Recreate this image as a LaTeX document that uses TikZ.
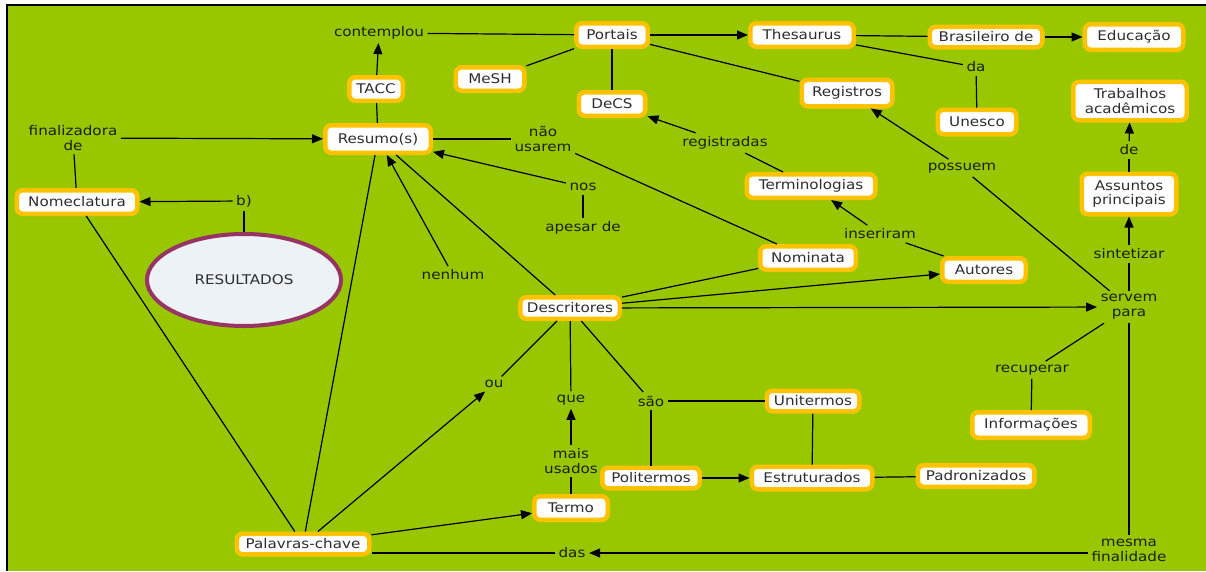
\documentclass[tikz,border=0pt]{standalone}
\usepackage{fontspec}
\setmainfont[FakeStretch=1.14]{DejaVu Sans}
\usetikzlibrary{arrows.meta,shapes.geometric}

\definecolor{mapgreen}{RGB}{152,199,0}
\definecolor{boxrim}{RGB}{255,194,0}
\definecolor{boxtext}{RGB}{45,45,45}
\definecolor{linktext}{RGB}{24,32,0}
\definecolor{ovalrim}{RGB}{150,52,100}
\definecolor{ovalfill}{RGB}{236,242,245}

\tikzset{
  concept/.style={draw=boxrim, line width=4.5pt, fill=white, rounded corners=6pt,
    text=boxtext, align=center, minimum height=23.5pt, inner sep=2pt},
  phrase/.style={text=linktext, align=center, inner sep=3.5pt},
  link/.style={draw=black, line width=1.2pt},
  arr/.style={link, -{Triangle[length=11pt,width=9pt]}},
  every node/.style={font=\fontsize{13.3}{14.8}\selectfont}
}

\begin{document}
\begin{tikzpicture}[x=1pt,y=-1pt]
  % page, frame and green field
  \useasboundingbox (0,0) rectangle (1206,571);
  \fill[white] (0,0) rectangle (1206,571);
  \fill[mapgreen] (7,5) rectangle (1206,571);
  \draw[black, line width=1.6pt] (7,571) -- (7,5) -- (1206,5);

  % concepts
  \node[concept, minimum width=53.5pt]  (tacc)   at (376,89)  {TACC};
  \node[concept, minimum width=105.5pt, minimum height=27.5pt] (res) at (378,139) {Resumo(s)};
  \node[concept, minimum width=120.5pt] (nom)    at (77,202)  {Nomeclatura};
  \node[concept, minimum width=71.5pt]  (port)   at (612,35)  {Portais};
  \node[concept, minimum width=68.5pt]  (mesh)   at (490,79)  {MeSH};
  \node[concept, minimum width=66.5pt]  (decs)   at (612,104) {DeCS};
  \node[concept, minimum width=103.5pt] (thes)   at (802,35)  {Thesaurus};
  \node[concept, minimum width=112.5pt, minimum height=20.5pt] (bras) at (986,37) {Brasileiro de};
  \node[concept, minimum width=98.5pt, minimum height=25.5pt]  (edu)  at (1134,37) {Educação};
  \node[concept, minimum width=90.5pt, minimum height=26.5pt]  (reg)  at (847,93)  {Registros};
  \node[concept, minimum width=78.5pt, minimum height=24.5pt]  (une)  at (977,122) {Unesco};
  \node[concept, minimum width=113.5pt, minimum height=38.5pt] (trab) at (1130,101) {Trabalhos\\acadêmicos};
  \node[concept, minimum width=94.5pt, minimum height=40.5pt]  (assu) at (1129,194) {Assuntos\\principais};
  \node[concept, minimum width=128.5pt] (term)   at (811,186) {Terminologias};
  \node[concept, minimum width=83.5pt]  (aut)    at (984,270) {Autores};
  \node[concept, minimum width=95.5pt]  (nomi)   at (808,258) {Nominata};
  \node[concept, minimum width=99.5pt, minimum height=21.5pt] (desc) at (570,308) {Descritores};
  \node[concept, minimum width=92.5pt, minimum height=20.5pt]  (uni)  at (813,401) {Unitermos};
  \node[concept, minimum width=117.5pt, minimum height=25.5pt] (info) at (1031,425) {Informações};
  \node[concept, minimum width=97.5pt, minimum height=20.5pt]  (poli) at (651,478) {Politermos};
  \node[concept, minimum width=120.5pt, minimum height=22.5pt] (estr) at (812,478) {Estruturados};
  \node[concept, minimum width=116.5pt, minimum height=21.5pt] (padr) at (976,476) {Padronizados};
  \node[concept, minimum width=73.5pt]  (termo)  at (571,508) {Termo};
  \node[concept, minimum width=132.5pt, minimum height=20.5pt] (pk)   at (303,544) {Palavras-chave};

  \node[ellipse, draw=ovalrim, line width=4pt, fill=ovalfill, text=boxtext,
        minimum width=194pt, minimum height=92pt] (resu) at (244,280) {RESULTADOS};

  % linking phrases
  \node[phrase] (cont)  at (379,33)   {contemplou};
  \node[phrase] (fin)   at (73,138)   {finalizadora\\de};
  \node[phrase] (b)     at (244,201)  {b)};
  \node[phrase] (da)    at (976,67)   {da};
  \node[phrase] (de)    at (1129,150) {de};
  \node[phrase] (sint)  at (1129,254) {sintetizar};
  \node[phrase] (regi)  at (725,143)  {registradas};
  \node[phrase] (poss)  at (962,168)  {possuem};
  \node[phrase] (ins)   at (880,234)  {inseriram};
  \node[phrase] (nao)   at (543,139)  {não\\usarem};
  \node[phrase] (nos)   at (583,187)  {nos};
  \node[phrase] (apes)  at (583,228)  {apesar de};
  \node[phrase] (nenh)  at (453,275)  {nenhum};
  \node[phrase] (serv)  at (1129,307) {servem\\para};
  \node[phrase] (ou)    at (494,384)  {ou};
  \node[phrase] (que)   at (571,400)  {que};
  \node[phrase] (sao)   at (651,401)  {são};
  \node[phrase] (recu)  at (1032,370) {recuperar};
  \node[phrase] (mais)  at (571,461)  {mais\\usados};
  \node[phrase] (das)   at (572,553)  {das};
  \node[phrase] (mesm)  at (1129,550) {mesma\\finalidade};

  % connectors
  \draw[link] (res) -- (tacc);
  \draw[arr]  (tacc) -- (cont);
  \draw[link] (cont) -- (port);
  \draw[arr]  (fin) -- (res);
  \draw[link] (nom) -- (fin);
  \draw[arr]  (b) -- (nom);
  \draw[link] (resu) -- (b);

  \draw[arr]  (port) -- (thes);
  \draw[link] (port) -- (mesh);
  \draw[link] (port) -- (decs);
  \draw[link] (port) -- (reg);
  \draw[link] (thes) -- (bras);
  \draw[arr]  (bras) -- (edu);
  \draw[link] (thes) -- (da);
  \draw[link] (da) -- (une);

  \draw[arr]  (regi) -- (decs);
  \draw[link] (term) -- (regi);
  \draw[arr]  (ins) -- (term);
  \draw[link] (aut) -- (ins);
  \draw[arr]  (poss) -- (reg);
  \draw[link] (serv) -- (poss);
  \draw[arr]  (sint) -- (assu);
  \draw[link] (serv) -- (sint);
  \draw[arr]  (de) -- (trab);
  \draw[link] (assu) -- (de);

  \draw[arr]  (desc) -- (serv);
  \draw[arr]  (desc) -- (aut);
  \draw[link] (desc) -- (nomi);
  \draw[link] (nomi) -- (nao);
  \draw[link] (nao) -- (res);
  \draw[arr]  (nos) -- (res);
  \draw[link] (apes) -- (nos);
  \draw[link] (desc) -- (res);
  \draw[arr]  (nenh) -- (res);

  \draw[link] (pk) -- (res);
  \draw[link] (pk) -- (nom);
  \draw[arr]  (pk) -- (ou);
  \draw[link] (ou) -- (desc);
  \draw[arr]  (pk) -- (termo);
  \draw[link] (das) -- (das -| pk.east);
  \draw[arr]  (mesm.west |- das) -- (das);
  \draw[link] (serv) -- (mesm);
  \draw[link] (serv) -- (recu);
  \draw[link] (recu) -- (info);

  \draw[link] (desc) -- (que);
  \draw[link] (desc) -- (sao);
  \draw[link] (sao) -- (uni);
  \draw[link] (sao) -- (poli);
  \draw[link] (uni) -- (estr);
  \draw[arr]  (poli) -- (estr);
  \draw[link] (estr) -- (padr);
  \draw[link] (termo) -- (mais);
  \draw[arr]  (mais) -- (que);
\end{tikzpicture}
\end{document}
